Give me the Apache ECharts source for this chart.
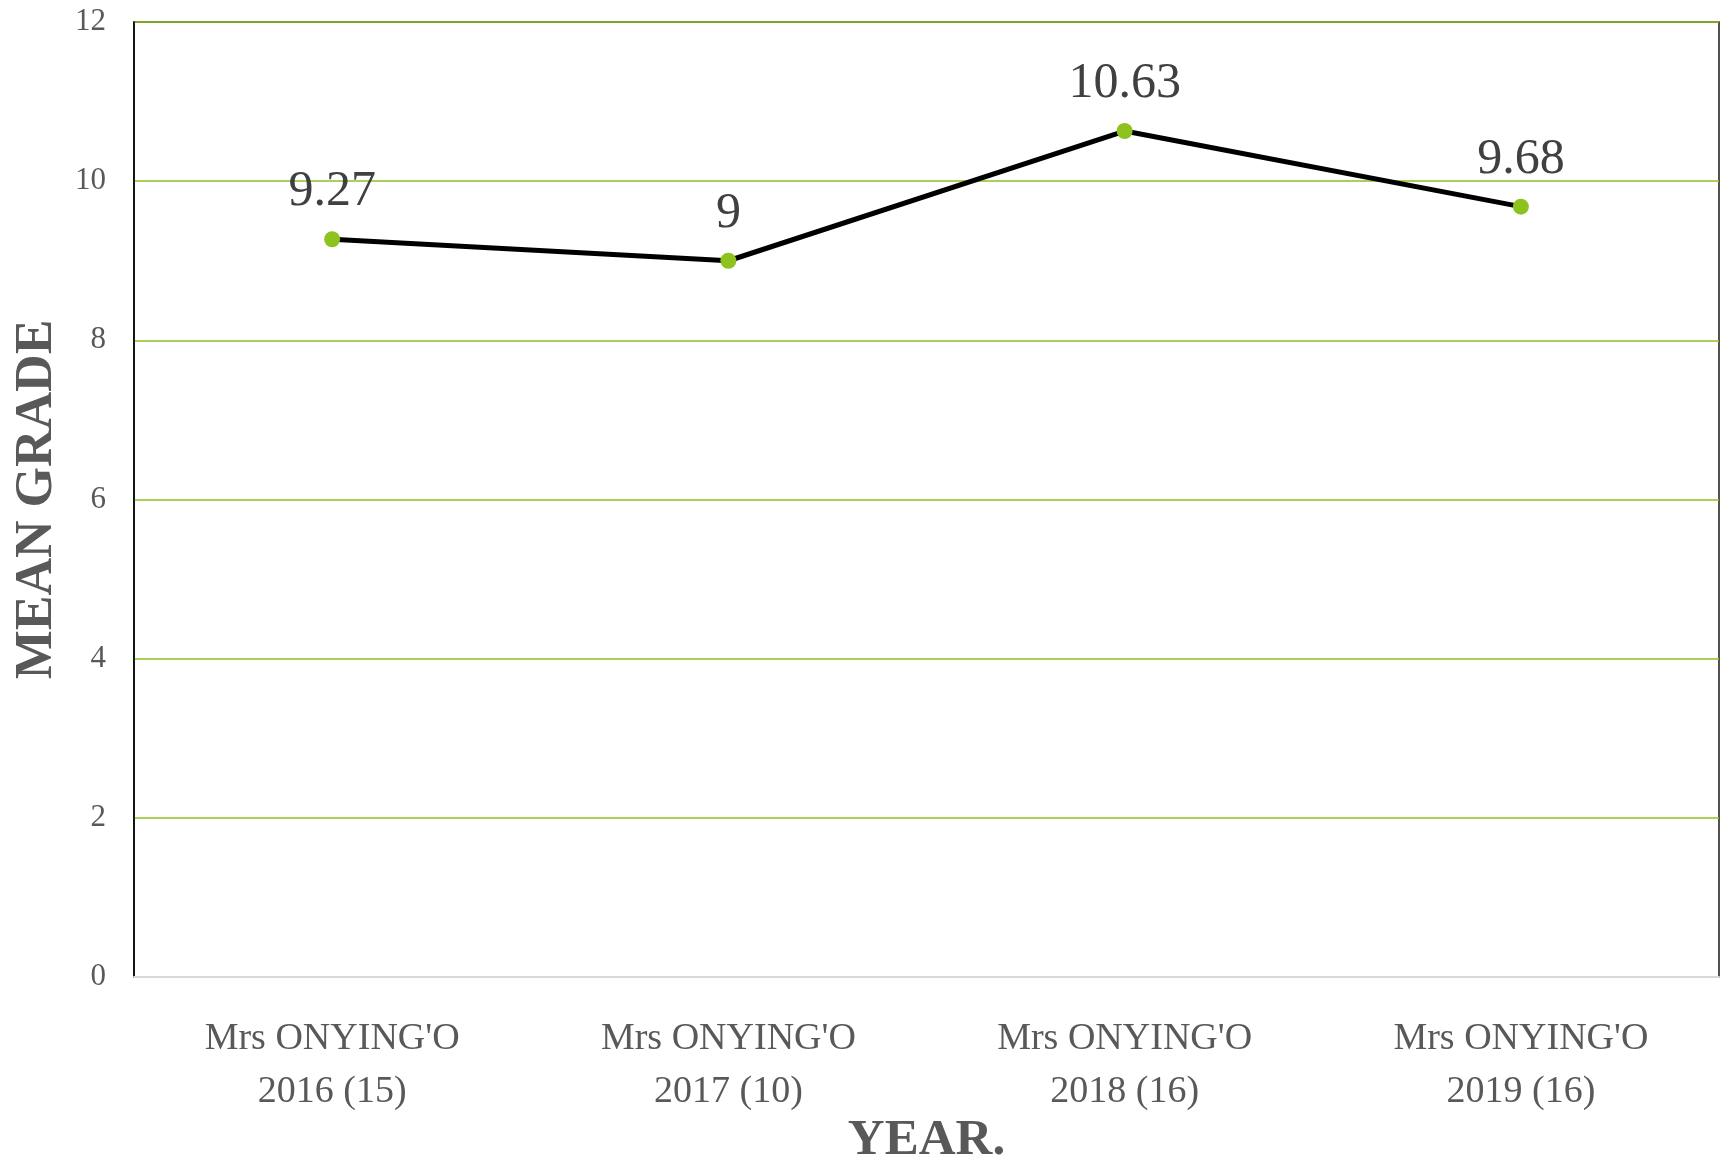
<!DOCTYPE html>
<html>
<head>
<meta charset="utf-8">
<script src="https://cdn.jsdelivr.net/npm/echarts@6/dist/echarts.min.js"></script>
<style>
  html, body { margin: 0; padding: 0; background: #fff; }
  #chart { width: 1727px; height: 1162px; }
</style>
</head>
<body>
<div id="chart"></div>
<script>
// categories and mean grades (student count in brackets)
var categories = [
  "Mrs ONYING'O\n2016 (15)",
  "Mrs ONYING'O\n2017 (10)",
  "Mrs ONYING'O\n2018 (16)",
  "Mrs ONYING'O\n2019 (16)"
];
var meanGrades = [9.27, 9, 10.63, 9.68];
var yTicks = [0, 2, 4, 6, 8, 10, 12];

var serif = '"Liberation Serif", "Times New Roman", serif';
var chart = echarts.init(document.getElementById('chart'), null, { renderer: 'canvas' });

var option = {
  backgroundColor: '#ffffff',
  animation: false,
  grid: {
    left: 134, right: 8, top: 22, bottom: 185,
    containLabel: false,
    outerBoundsMode: 'none',
    show: true,
    borderColor: '#1a1a1a',
    borderWidth: 1.5
  },
  xAxis: {
    type: 'category',
    data: categories,
    boundaryGap: true,
    name: 'YEAR.',
    nameLocation: 'middle',
    nameGap: 138,
    nameMoveOverlap: false,
    nameTextStyle: { fontFamily: serif, fontWeight: 'bold', fontSize: 51, color: '#595959' },
    axisLine: { lineStyle: { color: '#d9d9d9', width: 2 } },
    axisTick: { show: false },
    axisLabel: {
      fontFamily: serif, fontSize: 38, color: '#595959',
      lineHeight: 53, margin: 36, interval: 0
    },
    splitLine: { show: false }
  },
  yAxis: {
    type: 'value',
    min: yTicks[0],
    max: yTicks[yTicks.length - 1],
    interval: 2,
    name: 'MEAN GRADE',
    nameLocation: 'middle',
    nameRotate: 90,
    nameGap: 70,
    nameMoveOverlap: false,
    nameTextStyle: { fontFamily: serif, fontWeight: 'bold', fontSize: 52, color: '#595959' },
    axisLine: { show: true, lineStyle: { color: '#000', width: 1.5 } },
    axisTick: { show: false },
    axisLabel: { fontFamily: serif, fontSize: 31, color: '#595959', margin: 28 },
    splitLine: { lineStyle: { color: '#8dc21f', width: 1.5 } }
  },
  series: [{
    type: 'line',
    data: meanGrades,
    symbol: 'circle',
    symbolSize: 16,
    lineStyle: { color: '#000', width: 5 },
    itemStyle: { color: '#8dc21f', borderWidth: 0 },
    label: {
      show: true,
      position: 'top',
      distance: 14,
      fontFamily: serif,
      fontSize: 50,
      color: '#404040'
    }
  }]
};

chart.setOption(option);
</script>
</body>
</html>
